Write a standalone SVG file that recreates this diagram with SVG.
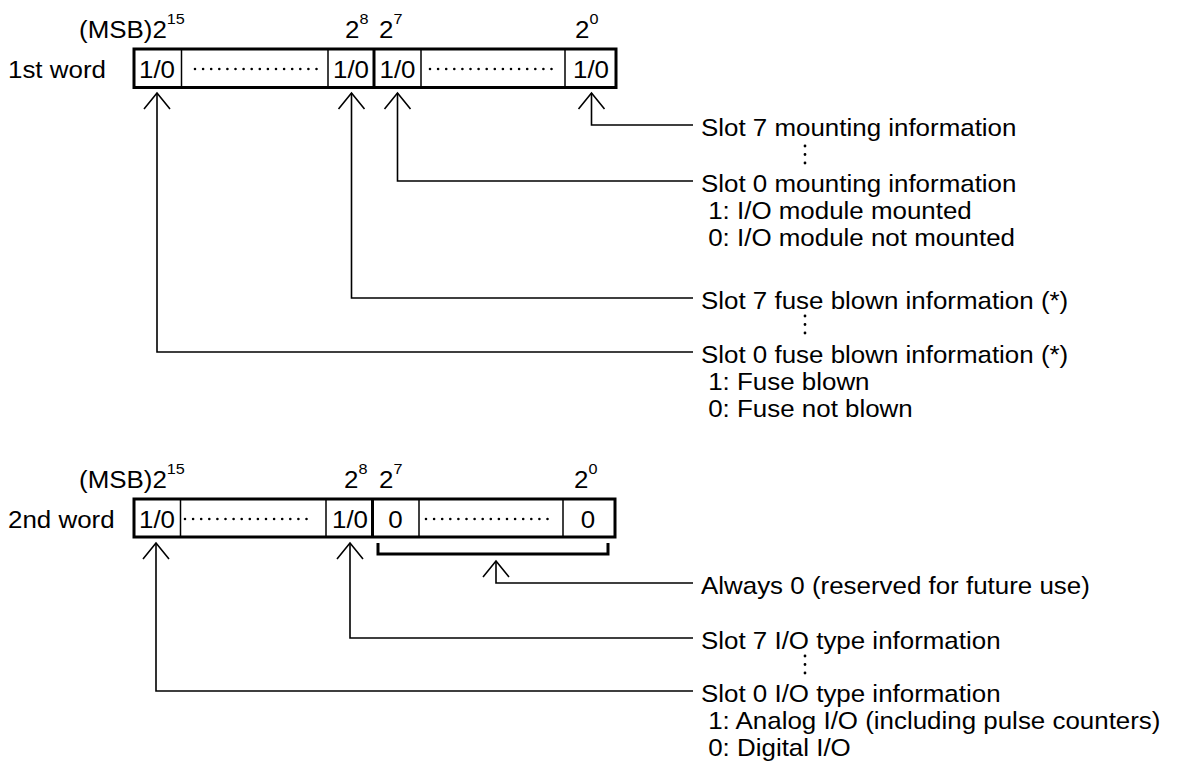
<svg xmlns="http://www.w3.org/2000/svg" width="1184" height="767" viewBox="0 0 1184 767">
<style>
text{font-family:"Liberation Sans",Arial,sans-serif;font-size:24px;fill:#000}
.sup{font-size:15px}
.mid{text-anchor:middle}
.box{fill:none;stroke:#000;stroke-width:3}
.thin{stroke:#000;stroke-width:1.5}
.bold{stroke:#000;stroke-width:3}
.dots{stroke:#000;stroke-width:2.6;stroke-dasharray:0 8.1;stroke-linecap:round}
.vdots{stroke:#000;stroke-width:2.8;stroke-dasharray:0 8.5;stroke-linecap:round}
.conn{fill:none;stroke:#000;stroke-width:1.6}
</style>
<rect width="1184" height="767" fill="#fff"/>

<g id="word1">
  <text transform="matrix(1.08,0,0,1,79,38)">(MSB)2<tspan class="sup" dy="-14">15</tspan></text>
  <text transform="matrix(1.08,0,0,1,345,38)">2<tspan class="sup" dy="-14">8</tspan></text>
  <text transform="matrix(1.08,0,0,1,379,38)">2<tspan class="sup" dy="-14">7</tspan></text>
  <text transform="matrix(1.08,0,0,1,575,38)">2<tspan class="sup" dy="-14">0</tspan></text>
  <text transform="matrix(1.08,0,0,1,8,78)">1st word</text>
  <rect class="box" x="134" y="49" width="482" height="38.5"/>
  <line class="thin" x1="181.5" y1="49" x2="181.5" y2="87.5"/>
  <line class="thin" x1="328" y1="49" x2="328" y2="87.5"/>
  <line class="bold" x1="374" y1="49" x2="374" y2="87.5"/>
  <line class="thin" x1="421" y1="49" x2="421" y2="87.5"/>
  <line class="thin" x1="565" y1="49" x2="565" y2="87.5"/>
  <text class="mid" transform="matrix(1.08,0,0,1,157,78)">1/0</text>
  <line class="dots" x1="195" y1="69" x2="318" y2="69"/>
  <text class="mid" transform="matrix(1.08,0,0,1,351,78)">1/0</text>
  <text class="mid" transform="matrix(1.08,0,0,1,397.5,78)">1/0</text>
  <line class="dots" x1="430" y1="69" x2="557" y2="69"/>
  <text class="mid" transform="matrix(1.08,0,0,1,591,78)">1/0</text>
</g>

<g id="labels1">
  <text transform="matrix(1.08,0,0,1,701,136)">Slot 7 mounting information</text>
  <line class="vdots" x1="805" y1="146" x2="805" y2="164"/>
  <text transform="matrix(1.08,0,0,1,701,192)">Slot 0 mounting information</text>
  <text transform="matrix(1.08,0,0,1,701,219)" xml:space="preserve"> 1: I/O module mounted</text>
  <text transform="matrix(1.08,0,0,1,701,246)" xml:space="preserve"> 0: I/O module not mounted</text>
  <text transform="matrix(1.08,0,0,1,701,309)">Slot 7 fuse blown information (*)</text>
  <line class="vdots" x1="805" y1="316" x2="805" y2="334"/>
  <text transform="matrix(1.08,0,0,1,701,363)">Slot 0 fuse blown information (*)</text>
  <text transform="matrix(1.08,0,0,1,701,390)" xml:space="preserve"> 1: Fuse blown</text>
  <text transform="matrix(1.08,0,0,1,701,417)" xml:space="preserve"> 0: Fuse not blown</text>
</g>

<g id="word2">
  <text transform="matrix(1.08,0,0,1,79,488)">(MSB)2<tspan class="sup" dy="-14">15</tspan></text>
  <text transform="matrix(1.08,0,0,1,344,488)">2<tspan class="sup" dy="-14">8</tspan></text>
  <text transform="matrix(1.08,0,0,1,379,488)">2<tspan class="sup" dy="-14">7</tspan></text>
  <text transform="matrix(1.08,0,0,1,574,488)">2<tspan class="sup" dy="-14">0</tspan></text>
  <text transform="matrix(1.08,0,0,1,8,528)">2nd word</text>
  <rect class="box" x="134" y="499" width="481" height="38"/>
  <line class="thin" x1="180.5" y1="499" x2="180.5" y2="537"/>
  <line class="thin" x1="326" y1="499" x2="326" y2="537"/>
  <line class="bold" x1="372.5" y1="499" x2="372.5" y2="537"/>
  <line class="thin" x1="419" y1="499" x2="419" y2="537"/>
  <line class="thin" x1="563" y1="499" x2="563" y2="537"/>
  <text class="mid" transform="matrix(1.08,0,0,1,157,528)">1/0</text>
  <line class="dots" x1="185" y1="519" x2="312" y2="519"/>
  <text class="mid" transform="matrix(1.08,0,0,1,350,528)">1/0</text>
  <text class="mid" transform="matrix(1.08,0,0,1,395.5,528)">0</text>
  <line class="dots" x1="426" y1="519" x2="553" y2="519"/>
  <text class="mid" transform="matrix(1.08,0,0,1,588,528)">0</text>
</g>

<g id="labels2">
  <text transform="matrix(1.08,0,0,1,701,594)">Always 0 (reserved for future use)</text>
  <text transform="matrix(1.08,0,0,1,701,649)">Slot 7 I/O type information</text>
  <line class="vdots" x1="805" y1="656" x2="805" y2="674"/>
  <text transform="matrix(1.08,0,0,1,701,702)">Slot 0 I/O type information</text>
  <text transform="matrix(1.08,0,0,1,701,729)" xml:space="preserve"> 1: Analog I/O (including pulse counters)</text>
  <text transform="matrix(1.08,0,0,1,701,756)" xml:space="preserve"> 0: Digital I/O</text>
</g>

<g id="connectors">
  <path class="conn" d="M591.5,93 V125 H693"/>
  <path class="conn" d="M578.5,109 L591.5,93 L604.5,109"/>
  <path class="conn" d="M397.5,93 V181 H693"/>
  <path class="conn" d="M384.5,109 L397.5,93 L410.5,109"/>
  <path class="conn" d="M351.5,93 V298 H693"/>
  <path class="conn" d="M338.5,109 L351.5,93 L364.5,109"/>
  <path class="conn" d="M157,93 V352 H693"/>
  <path class="conn" d="M144,109 L157,93 L170,109"/>
  <path d="M378,543 V554 H608 V543" fill="none" stroke="#000" stroke-width="3"/>
  <path class="conn" d="M496,561 V583 H693"/>
  <path class="conn" d="M483,577 L496,561 L509,577"/>
  <path class="conn" d="M350,543 V638 H693"/>
  <path class="conn" d="M337,559 L350,543 L363,559"/>
  <path class="conn" d="M156,543 V691 H693"/>
  <path class="conn" d="M143,559 L156,543 L169,559"/>
</g>
</svg>
